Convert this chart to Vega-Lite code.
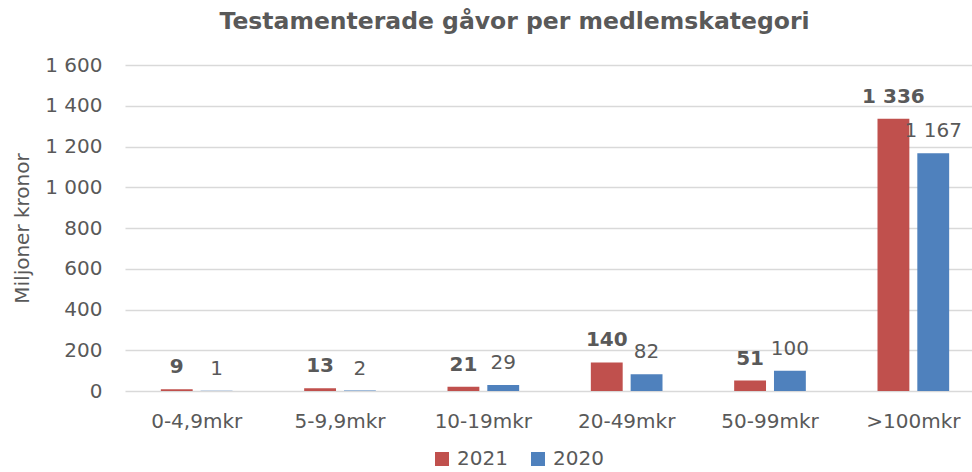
{
  "$schema": "https://vega.github.io/schema/vega-lite/v6.json",
  "width": 847,
  "height": 326,
  "autosize": "none",
  "padding": {"left": 125, "top": 65, "right": 0, "bottom": 81},
  "background": "white",
  "title": {
    "text": "Testamenterade gåvor per medlemskategori",
    "anchor": "middle",
    "frame": "group",
    "dx": -34,
    "offset": 22,
    "font": "DejaVu Sans",
    "fontSize": 23.5,
    "fontWeight": "bold",
    "color": "#595959"
  },
  "data": {
    "values": [
      {"kategori": "0-4,9mkr", "year": "2021", "value": 9},
      {"kategori": "0-4,9mkr", "year": "2020", "value": 1},
      {"kategori": "5-9,9mkr", "year": "2021", "value": 13},
      {"kategori": "5-9,9mkr", "year": "2020", "value": 2},
      {"kategori": "10-19mkr", "year": "2021", "value": 21},
      {"kategori": "10-19mkr", "year": "2020", "value": 29},
      {"kategori": "20-49mkr", "year": "2021", "value": 140},
      {"kategori": "20-49mkr", "year": "2020", "value": 82},
      {"kategori": "50-99mkr", "year": "2021", "value": 51},
      {"kategori": "50-99mkr", "year": "2020", "value": 100},
      {"kategori": ">100mkr", "year": "2021", "value": 1336},
      {"kategori": ">100mkr", "year": "2020", "value": 1167}
    ]
  },
  "encoding": {
    "x": {
      "field": "kategori",
      "type": "nominal",
      "sort": null,
      "scale": {"range": [0, 860], "paddingInner": 0.5, "paddingOuter": 0.25},
      "axis": {
        "title": null,
        "labelAngle": 0,
        "ticks": false,
        "domain": false,
        "labelPadding": 20,
        "labelFontSize": 20,
        "labelFont": "DejaVu Sans",
        "labelColor": "#595959"
      }
    },
    "xOffset": {
      "field": "year",
      "type": "nominal",
      "sort": ["2021", "2020"],
      "scale": {"paddingInner": 0.2, "paddingOuter": 0}
    },
    "y": {
      "field": "value",
      "type": "quantitative",
      "scale": {"domain": [0, 1600], "nice": false},
      "axis": {
        "title": "Miljoner kronor",
        "values": [0, 200, 400, 600, 800, 1000, 1200, 1400, 1600],
        "format": ",d",
        "ticks": false,
        "domain": false,
        "labelPadding": 23,
        "labelFontSize": 20,
        "labelFont": "DejaVu Sans",
        "labelColor": "#595959",
        "titleFont": "DejaVu Sans",
        "titleFontSize": 20,
        "titleFontWeight": "normal",
        "titleColor": "#595959",
        "titleX": -93,
        "gridColor": "#d9d9d9",
        "gridWidth": 1.5
      }
    }
  },
  "layer": [
    {
      "mark": {"type": "bar"},
      "encoding": {
        "color": {
          "field": "year",
          "type": "nominal",
          "sort": ["2021", "2020"],
          "scale": {"domain": ["2021", "2020"], "range": ["#C0504D", "#4F81BD"]},
          "legend": {
            "title": null,
            "orient": "none",
            "legendX": 307,
            "legendY": 384,
            "direction": "horizontal",
            "symbolType": "square",
            "symbolSize": 196,
            "symbolStrokeWidth": 0,
            "labelFontSize": 20,
            "labelFont": "DejaVu Sans",
            "labelColor": "#595959",
            "labelOffset": 5,
            "columnPadding": 20,
            "padding": 0
          }
        }
      }
    },
    {
      "transform": [{"filter": "datum.year == '2021'"}],
      "mark": {"type": "text", "baseline": "alphabetic", "dy": -16, "font": "DejaVu Sans", "fontSize": 20, "fontWeight": "bold", "color": "#595959"},
      "encoding": {"text": {"field": "value", "type": "quantitative", "format": ",d"}}
    },
    {
      "transform": [{"filter": "datum.year == '2020'"}],
      "mark": {"type": "text", "baseline": "alphabetic", "dy": -16, "font": "DejaVu Sans", "fontSize": 20, "color": "#595959"},
      "encoding": {"text": {"field": "value", "type": "quantitative", "format": ",d"}}
    }
  ],
  "config": {
    "locale": {"number": {"decimal": ",", "thousands": " ", "grouping": [3], "currency": ["", " kr"]}},
    "view": {"stroke": null}
  }
}
